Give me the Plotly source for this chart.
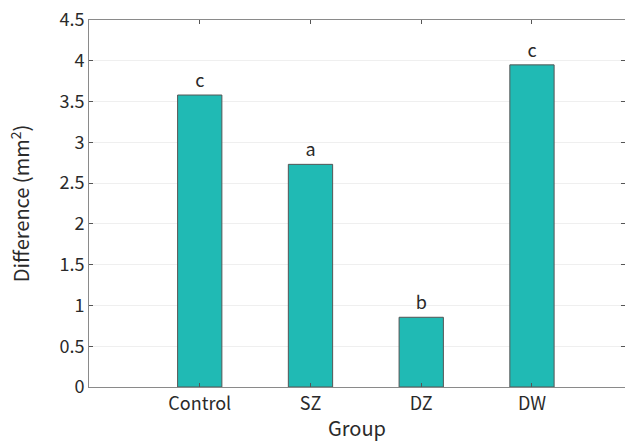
import plotly.graph_objects as go

groups = ["Control", "SZ", "DZ", "DW"]
values = [3.58, 2.73, 0.855, 3.95]
letters = ["c", "a", "b", "c"]
y_ticks = [0, 0.5, 1, 1.5, 2, 2.5, 3, 3.5, 4, 4.5]
y_tick_labels = ["0", "0.5", "1", "1.5", "2", "2.5", "3", "3.5", "4", "4.5"]

xpos = list(range(1, len(groups) + 1))
FONT = "Noto Sans CJK KR"
TXT = "#2a2a2a"

fig = go.Figure()
fig.add_trace(go.Bar(
    x=xpos, y=values, width=0.4,
    marker=dict(color="#20BAB4", line=dict(color="#555555", width=1)),
    text=letters, textposition="outside",
    textfont=dict(family=FONT, size=18, color=TXT),
    cliponaxis=False,
))

axis_common = dict(
    showline=True, linecolor="#8a8a8a", linewidth=1, mirror="allticks",
    ticks="inside", ticklen=4, tickcolor="#555555",
    tickfont=dict(family=FONT, size=18, color=TXT),
    zeroline=False, automargin=False,
)

fig.update_layout(
    width=625, height=442,
    margin=dict(l=89, r=0, t=20, b=55, autoexpand=False),
    plot_bgcolor="white", paper_bgcolor="white",
    showlegend=False,
    xaxis=dict(
        range=[0, 4.84], tickvals=xpos, ticktext=groups, showgrid=False,
        title=dict(text="Group", font=dict(family=FONT, size=20, color=TXT), standoff=10),
        **axis_common,
    ),
    yaxis=dict(
        range=[0, 4.5], tickvals=y_ticks, ticktext=y_tick_labels,
        showgrid=True, gridcolor="#efefef", gridwidth=1,
        title=dict(text="Difference (mm<sup>2</sup>)", font=dict(family=FONT, size=20, color=TXT), standoff=24),
        **axis_common,
    ),
)

fig.write_html(
    "out.html",
    config={"displayModeBar": False},
    post_script="document.body.style.margin='0';document.body.style.overflow='hidden';",
)
